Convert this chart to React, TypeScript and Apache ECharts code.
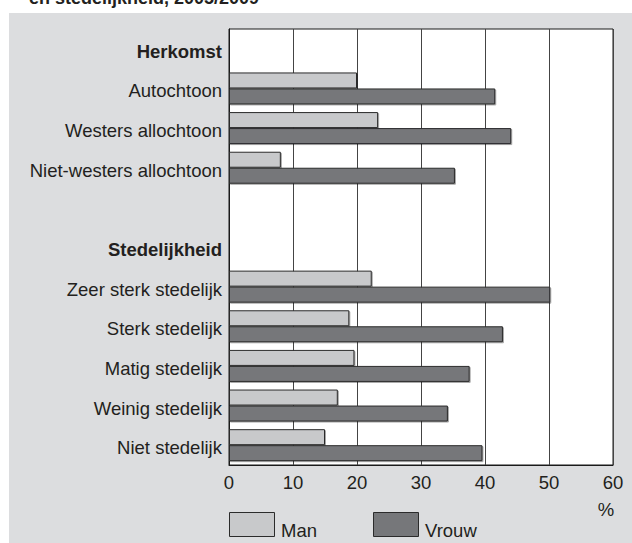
import React, { useEffect, useRef } from "react";
import * as echarts from "echarts";

const categories = [
  "Herkomst",
  "Autochtoon",
  "Westers allochtoon",
  "Niet-westers allochtoon",
  "",
  "Stedelijkheid",
  "Zeer sterk stedelijk",
  "Sterk stedelijk",
  "Matig stedelijk",
  "Weinig stedelijk",
  "Niet stedelijk",
];
const headers = ["Herkomst", "Stedelijkheid"];
const manValues = [null, 20.0, 23.3, 8.1, null, null, 22.3, 18.8, 19.6, 17.0, 15.0];
const vrouwValues = [null, 41.6, 44.1, 35.3, null, null, 50.2, 42.8, 37.6, 34.2, 39.6];
const xTicks = [0, 10, 20, 30, 40, 50, 60];
const seriesNames = ["Man", "Vrouw"];
const seriesColors = ["#c8c9cb", "#76777a"];
const titleText = "en stedelijkheid, 2005/2009";
const unitText = "%";

const FONT = "'Liberation Sans', Arial, Helvetica, sans-serif";
const TEXT = "#231f20";
const FS = 18.5;
const BORDER = "#2b2b2b";

export default function App() {
  const ref = useRef<HTMLDivElement>(null);
  useEffect(() => {
    if (!ref.current) return;
    const chart = echarts.init(ref.current, null, { renderer: "svg" });
    const barBorder = {
      borderColor: BORDER,
      borderWidth: 1,
      shadowColor: "rgba(0,0,0,0.35)",
      shadowOffsetX: 1,
      shadowOffsetY: 1,
      shadowBlur: 0,
    };
    const legendX = [229, 373];
    const legendGraphics: any[] = [];
    seriesNames.forEach((name, i) => {
      legendGraphics.push({
        type: "rect",
        shape: { x: legendX[i] + 0.5, y: 512.5, width: 45, height: 24 },
        style: { fill: seriesColors[i], stroke: BORDER, lineWidth: 1 },
      });
      legendGraphics.push({
        type: "text",
        x: legendX[i] + 52,
        y: 530,
        style: {
          text: name,
          font: `${FS}px ${FONT}`,
          fill: TEXT,
          verticalAlign: "middle",
        },
      });
    });
    chart.setOption({
      animation: false,
      backgroundColor: "#ffffff",
      textStyle: { fontFamily: FONT, color: TEXT },
      graphic: [
        {
          type: "rect",
          z: -10,
          silent: true,
          shape: { x: 9, y: 13, width: 623, height: 530 },
          style: { fill: "#dcdddf" },
        },
        {
          type: "text",
          x: 29,
          y: -11,
          style: {
            text: titleText,
            font: `bold 18px ${FONT}`,
            fill: TEXT,
            verticalAlign: "top",
          },
        },
        {
          type: "text",
          x: 606,
          y: 509,
          style: {
            text: unitText,
            font: `${FS}px ${FONT}`,
            fill: TEXT,
            align: "center",
            verticalAlign: "middle",
          },
        },
        ...legendGraphics,
      ],
      grid: {
        left: 229,
        right: 19,
        top: 29,
        bottom: 78,
        show: true,
        backgroundColor: "#ffffff",
        borderColor: "#1a1a1a",
        borderWidth: 1,
      },
      xAxis: {
        type: "value",
        min: 0,
        max: 60,
        interval: 10,
        axisLine: { show: true, lineStyle: { color: "#1a1a1a", width: 1 } },
        axisTick: { show: false },
        splitLine: { show: true, lineStyle: { color: "#444444", width: 1 } },
        axisLabel: {
          fontSize: FS,
          color: TEXT,
          fontFamily: FONT,
          margin: 8,
          formatter: (v: number) => (xTicks.includes(v) ? String(v) : ""),
        },
      },
      yAxis: {
        type: "category",
        inverse: true,
        data: categories,
        axisLine: { show: true, lineStyle: { color: "#1a1a1a", width: 1 } },
        axisTick: { show: false },
        axisLabel: {
          fontSize: FS,
          color: TEXT,
          fontFamily: FONT,
          margin: 7,
          padding: [5, 0, 0, 0],
          formatter: (v: string) => (headers.includes(v) ? `{b|${v}}` : v),
          rich: {
            b: { fontWeight: "bold", fontSize: FS, color: TEXT, fontFamily: FONT },
          },
        },
      },
      series: [
        {
          name: seriesNames[0],
          type: "bar",
          data: manValues,
          barWidth: 16,
          barGap: "0%",
          itemStyle: { color: seriesColors[0], ...barBorder },
        },
        {
          name: seriesNames[1],
          type: "bar",
          data: vrouwValues,
          barWidth: 16,
          barGap: "0%",
          itemStyle: { color: seriesColors[1], ...barBorder },
        },
      ],
    });
    return () => chart.dispose();
  }, []);
  return (
    <div
      ref={ref}
      style={{ position: "fixed", left: 0, top: 0, width: 632, height: 543 }}
    />
  );
}
